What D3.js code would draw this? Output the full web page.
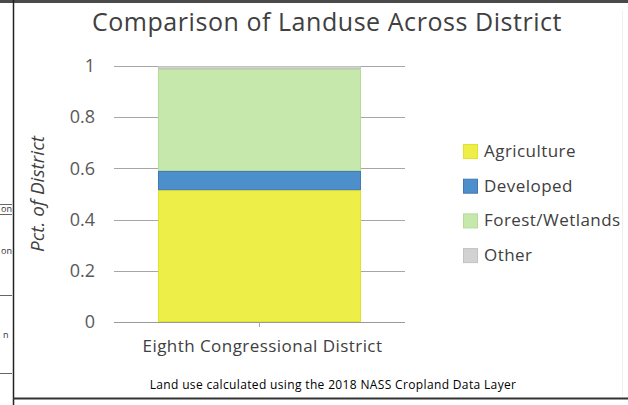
<!DOCTYPE html>
<title>landuse stacked bar</title>
<style>
body { margin: 0; background: #fff; }
svg { display: block; font-family: "Open Sans", sans-serif; }
</style>
<svg width="628" height="405"></svg>
<script src="https://cdnjs.cloudflare.com/ajax/libs/d3/7.8.5/d3.min.js"></script>
<script>
// chart values
var categories = ["Eighth Congressional District"];
var seriesNames = ["Agriculture", "Developed", "Forest/Wetlands", "Other"];
var agriculture = [0.515];
var developed = [0.075];
var forestWetlands = [0.398];
var other = [0.012];
var yTicks = [0, 0.2, 0.4, 0.6, 0.8, 1];
var yTickLabels = ["0", "0.2", "0.4", "0.6", "0.8", "1"];

var fills = ["#eeee48", "#4d8fcb", "#c6e8ac", "#d2d2d2"];
var strokes = ["#e2e22a", "#3f78b4", "#b3dc96", "#c2c2c2"];

var svg = d3.select("svg");

// surrounding page bits (the chart was cropped out of a document)
svg.append("rect").attr("x", 0).attr("y", 0).attr("width", 628).attr("height", 3).attr("fill", "#4a4a4a");
svg.append("line").attr("x1", 13.5).attr("x2", 13.5).attr("y1", 0).attr("y2", 405).attr("stroke", "#222").attr("stroke-width", 1.5);
svg.append("line").attr("x1", 13).attr("x2", 628).attr("y1", 398.5).attr("y2", 398.5).attr("stroke", "#333").attr("stroke-width", 2);
svg.append("line").attr("x1", 622.5).attr("x2", 622.5).attr("y1", 10).attr("y2", 396).attr("stroke", "#f0f0f0");
var frag = svg.append("g").attr("stroke", "#666");
[204, 214, 295, 373].forEach(function(yy) {
  frag.append("line").attr("x1", 0).attr("x2", 12).attr("y1", yy + 0.5).attr("y2", yy + 0.5);
});
svg.append("g").attr("font-size", 9).attr("fill", "#333")
  .selectAll("text").data([[1, 212, "on"], [1, 254, "on"], [3, 338, "n"]])
  .enter().append("text")
  .attr("x", function(d) { return d[0]; })
  .attr("y", function(d) { return d[1]; })
  .text(function(d) { return d[2]; });

var x = d3.scaleBand()
    .domain(categories)
    .range([114, 405])
    .padding(0.178);

var y = d3.scaleLinear()
    .domain([0, 1])
    .range([322, 66]);

var rows = categories.map(function(c, i) {
  return {
    name: c,
    "Agriculture": agriculture[i],
    "Developed": developed[i],
    "Forest/Wetlands": forestWetlands[i],
    "Other": other[i]
  };
});

// gridlines
svg.append("g")
  .selectAll("line")
  .data(yTicks)
  .enter().append("line")
  .attr("x1", 114).attr("x2", 405)
  .attr("y1", function(d) { return Math.round(y(d)) + 0.5; })
  .attr("y2", function(d) { return Math.round(y(d)) + 0.5; })
  .attr("stroke", function(d) { return d === 0 ? "#9a9a9a" : "#a6a6a6"; })
  .attr("stroke-width", 1);

// stacked bars
svg.append("g")
  .selectAll("g")
  .data(d3.stack().keys(seriesNames)(rows))
  .enter().append("g")
  .attr("fill", function(d, i) { return fills[i]; })
  .attr("stroke", function(d, i) { return strokes[i]; })
  .selectAll("rect")
  .data(function(d) { return d; })
  .enter().append("rect")
  .attr("x", function(d) { return x(d.data.name) + 0.5; })
  .attr("y", function(d) { return y(d[1]) + 0.5; })
  .attr("width", x.bandwidth() - 1)
  .attr("height", function(d) { return Math.max(0, y(d[0]) - y(d[1]) - 1); })
  .attr("stroke-width", 1);

// y axis labels
var yAxis = svg.append("g")
  .attr("transform", "translate(114,0)")
  .call(d3.axisLeft(y).tickValues(yTicks).tickSize(0).tickPadding(19)
    .tickFormat(function(d, i) { return yTickLabels[i]; }));
yAxis.select(".domain").remove();
yAxis.selectAll("text")
  .attr("font-family", "'Open Sans', sans-serif")
  .attr("font-size", 18)
  .attr("fill", "#595959");

// x axis
var xAxis = svg.append("g")
  .attr("transform", "translate(0,322)")
  .call(d3.axisBottom(x).tickSize(5).tickPadding(13));
xAxis.select(".domain").remove();
xAxis.selectAll("line").attr("stroke", "#a6a6a6");
xAxis.selectAll("text")
  .attr("font-family", "'Open Sans', sans-serif")
  .attr("font-size", 17)
  .attr("letter-spacing", 0.45)
  .attr("dx", 3)
  .attr("fill", "#404040");

// title
svg.append("text")
  .attr("x", 327)
  .attr("y", 31)
  .attr("text-anchor", "middle")
  .attr("font-size", 25)
  .attr("letter-spacing", 0.55)
  .attr("fill", "#404040")
  .text("Comparison of Landuse Across District");

// y axis title
svg.append("text")
  .attr("transform", "translate(44,194) rotate(-90)")
  .attr("text-anchor", "middle")
  .attr("font-size", 19)
  .attr("font-style", "italic")
  .attr("fill", "#404040")
  .text("Pct. of District");

// legend
var legend = svg.append("g")
  .selectAll("g")
  .data(seriesNames)
  .enter().append("g")
  .attr("transform", function(d, i) { return "translate(463," + (144 + i * 34.7) + ")"; });

legend.append("rect")
  .attr("x", 0.5).attr("y", 0.5)
  .attr("width", 14).attr("height", 14)
  .attr("fill", function(d, i) { return fills[i]; })
  .attr("stroke", function(d, i) { return strokes[i]; });

legend.append("text")
  .attr("x", 21)
  .attr("y", 13)
  .attr("font-size", 17)
  .attr("letter-spacing", 0.45)
  .attr("fill", "#404040")
  .text(function(d) { return d; });

// footnote
svg.append("text")
  .attr("x", 333)
  .attr("y", 389)
  .attr("text-anchor", "middle")
  .attr("font-size", 12)
  .attr("letter-spacing", 0.35)
  .attr("fill", "#000")
  .text("Land use calculated using the 2018 NASS Cropland Data Layer");
</script>
